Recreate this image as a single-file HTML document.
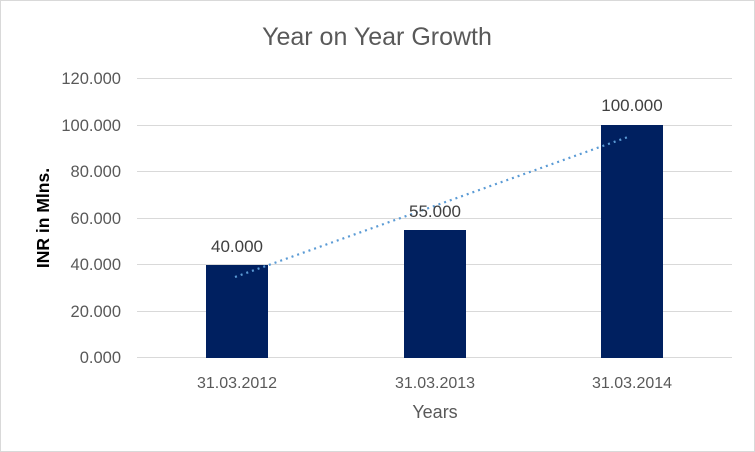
<!DOCTYPE html>
<html><head><style>body{margin:0}svg{display:block}</style></head><body>
<svg width="755" height="452" xmlns="http://www.w3.org/2000/svg" font-family="Liberation Sans, sans-serif">
<rect x="0.5" y="0.5" width="754" height="451" fill="#fff" stroke="#d9d9d9"/>
<text x="377" y="45" text-anchor="middle" font-size="25" fill="#595959">Year on Year Growth</text>
<g stroke="#d9d9d9" stroke-width="1">
<line x1="137" x2="732" y1="78.5" y2="78.5"/><line x1="137" x2="732" y1="125.5" y2="125.5"/>
<line x1="137" x2="732" y1="171.5" y2="171.5"/><line x1="137" x2="732" y1="218.5" y2="218.5"/>
<line x1="137" x2="732" y1="264.5" y2="264.5"/><line x1="137" x2="732" y1="311.5" y2="311.5"/>
<line x1="137" x2="732" y1="357.5" y2="357.5"/></g>
<g font-size="16.5" fill="#595959" text-anchor="end">
<text x="121" y="84">120.000</text><text x="121" y="131">100.000</text><text x="121" y="177">80.000</text>
<text x="121" y="224">60.000</text><text x="121" y="270">40.000</text><text x="121" y="317">20.000</text><text x="121" y="363">0.000</text></g>
<g fill="#002060"><rect x="206" y="265" width="62" height="93"/><rect x="404" y="230" width="62" height="128"/><rect x="601" y="125" width="62" height="233"/></g>
<line x1="235" y1="277" x2="628" y2="137" stroke="#5b9bd5" stroke-width="2.2" stroke-dasharray="2,4"/>
<g font-size="17" fill="#404040" text-anchor="middle">
<text x="237" y="252">40.000</text><text x="435" y="217">55.000</text><text x="632" y="111">100.000</text></g>
<g font-size="16" fill="#595959" text-anchor="middle">
<text x="237" y="388">31.03.2012</text><text x="435" y="388">31.03.2013</text><text x="632" y="388">31.03.2014</text>
<text x="435" y="418" font-size="18">Years</text></g>
<text transform="translate(49,218) rotate(-90)" text-anchor="middle" font-size="17.5" font-weight="bold" fill="#000">INR in Mlns.</text>
</svg></body></html>
